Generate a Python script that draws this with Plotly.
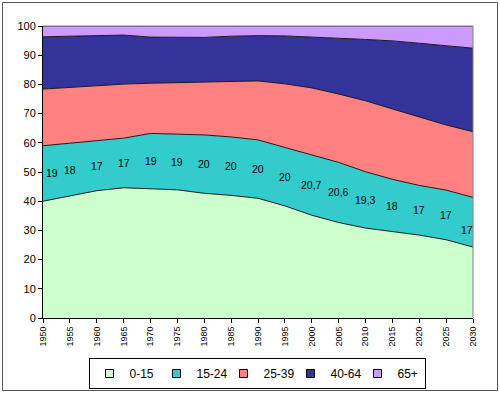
import plotly.graph_objects as go

years = [1950, 1955, 1960, 1965, 1970, 1975, 1980, 1985, 1990, 1995,
         2000, 2005, 2010, 2015, 2020, 2025, 2030]
age_0_15 = [40.0, 41.8, 43.6, 44.6, 44.2, 43.9, 42.7, 42.0, 41.0, 38.4,
            35.2, 32.7, 30.8, 29.5, 28.4, 26.8, 24.3]
age_15_24 = [19, 18, 17, 17, 19, 19, 20, 20, 20, 20,
             20.7, 20.6, 19.3, 18, 17, 17, 17]
age_25_39 = [19.4, 19.2, 19.1, 18.5, 17.2, 17.7, 18.1, 19.2, 20.2, 21.8,
             22.9, 23.4, 24.3, 24.1, 23.4, 22.3, 22.5]
age_40_64 = [17.9, 17.5, 17.0, 16.8, 15.8, 15.6, 15.3, 15.3, 15.5, 16.4,
             17.3, 19.1, 21.0, 23.3, 25.3, 27.2, 28.6]
age_65 = [3.7, 3.5, 3.3, 3.1, 3.8, 3.8, 3.9, 3.5, 3.3, 3.4,
          3.9, 4.2, 4.6, 5.1, 5.9, 6.7, 7.6]
label_15_24 = ["19", "18", "17", "17", "19", "19", "20", "20", "20", "20",
               "20,7", "20,6", "19,3", "18", "17", "17", "17"]

series_names = ["0-15", "15-24", "25-39", "40-64", "65+"]
series_values = [age_0_15, age_15_24, age_25_39, age_40_64, age_65]
colors = ["#CCFFCC", "#33CCCC", "#FF8080", "#333399", "#CC99FF"]

FONT = "Arial, Liberation Sans, sans-serif"

fig = go.Figure()
for name, vals, col in zip(series_names, series_values, colors):
    fig.add_trace(go.Scatter(
        x=years, y=vals, name=name, stackgroup="one", mode="lines",
        line=dict(color="#1a1a1a", width=1), fillcolor=col,
        showlegend=False, hoverinfo="skip"))

# legend entries (square swatches)
for name, col in zip(series_names, colors):
    fig.add_trace(go.Scatter(
        x=[None], y=[None], name=name, mode="markers",
        marker=dict(symbol="square", size=8, color=col,
                    line=dict(color="#000000", width=1)),
        showlegend=True))

# data labels for 15-24 series
n = len(years)
for i, (yr, g, v, t) in enumerate(zip(years, age_0_15, age_15_24, label_15_24)):
    xs, ys = 0, 0
    if i == 0:
        xs = 9
    if i == n - 1:
        xs, ys = -6, -8
    fig.add_annotation(x=yr, y=g + v / 2, text=t, showarrow=False,
                       xshift=xs, yshift=ys,
                       font=dict(family=FONT, size=10.5, color="#000000"))

W, H = 500, 393
L, R, T, B = 43, 473, 26, 318
def px(x):
    return (x - L) / (R - L)
def py(y):
    return (B - y) / (B - T)

shapes = [
    # plot area top/right border
    dict(type="line", xref="paper", yref="paper", x0=0, x1=1, y0=1, y1=1,
         line=dict(color="#808080", width=1), layer="above"),
    dict(type="line", xref="paper", yref="paper", x0=1, x1=1, y0=0, y1=1,
         line=dict(color="#808080", width=1), layer="above"),
    # outer chart border
    dict(type="rect", xref="paper", yref="paper",
         x0=px(2.5), x1=px(497.5), y0=py(390.5), y1=py(2.5),
         line=dict(color="#555555", width=1), layer="above"),
]

fig.update_layout(
    width=W, height=H,
    margin=dict(l=L, r=W - R, t=T, b=H - B, autoexpand=False),
    paper_bgcolor="white", plot_bgcolor="white",
    font=dict(family=FONT, size=11, color="#000000"),
    shapes=shapes,
    showlegend=True,
    legend=dict(orientation="h", x=px(257), xanchor="center",
                y=py(358), yanchor="top", traceorder="normal",
                bordercolor="#000000", borderwidth=1,
                font=dict(family=FONT, size=12, color="#000000"),
                entrywidth=22, entrywidthmode="pixels",
                itemclick=False, itemdoubleclick=False),
    xaxis=dict(range=[1950, 2030], tickvals=years,
               ticktext=[str(y) for y in years], tickangle=-90,
               showgrid=False, zeroline=False, showline=True,
               linecolor="#000000", linewidth=1, automargin=False,
               ticks="outside", ticklen=4, tickcolor="#000000",
               tickfont=dict(family=FONT, size=9, color="#000000")),
    yaxis=dict(range=[0, 100], dtick=10, showgrid=False, zeroline=False,
               showline=True, linecolor="#000000", linewidth=1, automargin=False,
               ticks="outside", ticklen=4, tickcolor="#000000",
               tickfont=dict(family=FONT, size=11, color="#000000")),
)

fig.write_html("out.html", config={"displayModeBar": False},
               post_script="document.body.style.margin='0';document.body.style.overflow='hidden';")
